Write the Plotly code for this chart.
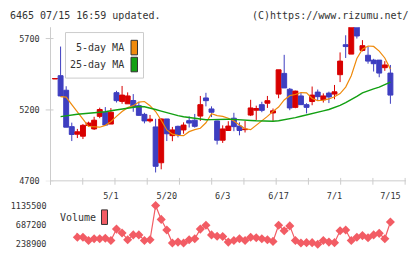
import plotly.graph_objects as go

W, H = 420, 259

# ---------------- data ----------------
tick_idx = [10, 20, 30, 40, 50, 60]
tick_labels = ["5/1", "5/20", "6/3", "6/17", "7/1", "7/15"]

opens = [5417, 5440, 5338, 5083, 5030, 5016, 5091, 5067, 5155, 5184,
         5101, 5321, 5260, 5243, 5266, 5230, 5169, 5123, 5081, 4830,
         5137, 5020, 5085, 5060, 5125, 5128, 5157, 5284, 5207, 5123,
         4988, 5056, 5142, 5087, 5062, 5164, 5198, 5237, 5247, 5179,
         5311, 5456, 5345, 5218, 5298, 5237, 5259, 5325, 5271, 5318,
         5311, 5447, 5657, 5591, 5800, 5617, 5583, 5549, 5549, 5496,
         5458]
highs = [5420, 5644, 5366, 5111, 5067, 5101, 5118, 5152, 5216, 5220,
         5213, 5334, 5368, 5323, 5311, 5257, 5180, 5165, 5138, 5140,
         5137, 5081, 5090, 5113, 5155, 5172, 5298, 5320, 5225, 5125,
         5092, 5121, 5180, 5113, 5123, 5271, 5230, 5257, 5298, 5210,
         5481, 5586, 5354, 5335, 5320, 5247, 5364, 5343, 5316, 5328,
         5375, 5603, 5723, 5800, 5820, 5689, 5644, 5558, 5549, 5542,
         5515]
lows = [5417, 5295, 5079, 4982, 5003, 4996, 5084, 5060, 5142, 5089,
        5101, 5252, 5243, 5243, 5187, 5159, 5106, 5111, 4762, 4784,
        4982, 4981, 5008, 5033, 5077, 5076, 5123, 5225, 5150, 4958,
        4969, 5056, 5051, 5022, 5042, 5157, 5130, 5184, 5214, 5123,
        5282, 5354, 5198, 5212, 5235, 5176, 5233, 5264, 5252, 5248,
        5275, 5395, 5564, 5591, 5700, 5610, 5524, 5469, 5429, 5474,
        5243]
closes = [5420, 5298, 5079, 5028, 5047, 5092, 5108, 5128, 5203, 5094,
          5184, 5265, 5304, 5298, 5221, 5162, 5123, 5135, 4805, 5137,
          5033, 5060, 5028, 5094, 5108, 5085, 5237, 5265, 5184, 4988,
          5067, 5087, 5083, 5056, 5065, 5214, 5210, 5197, 5265, 5194,
          5481, 5354, 5214, 5332, 5237, 5218, 5304, 5293, 5298, 5291,
          5327, 5542, 5644, 5790, 5718, 5650, 5542, 5524, 5458, 5515,
          5304]

ma5 = [None, 5293, 5290, 5237, 5189, 5135, 5084, 5079, 5079, 5092,
       5118, 5155, 5189, 5216, 5230, 5255, 5259, 5230, 5189, 5128,
       5060, 5030, 5022, 5020, 5048, 5062, 5072, 5110, 5174, 5160,
       5155, 5142, 5122, 5095, 5068, 5062, 5092, 5123, 5155, 5190,
       5220, 5270, 5300, 5308, 5322, 5320, 5280, 5265, 5268, 5277,
       5292, 5315, 5360, 5440, 5560, 5625, 5648, 5645, 5612, 5564,
       5486]
ma25 = [None, 5153, 5160, 5166, 5170, 5173, 5176, 5178, 5182, 5187,
        5194, 5200, 5207, 5214, 5220, 5224, 5222, 5214, 5203, 5192,
        5181, 5168, 5160, 5152, 5146, 5140, 5135, 5131, 5132, 5134,
        5135, 5135, 5134, 5133, 5128, 5126, 5124, 5122, 5121, 5121,
        5124, 5130, 5137, 5146, 5156, 5164, 5172, 5182, 5193, 5203,
        5217, 5232, 5252, 5272, 5295, 5320, 5336, 5348, 5360, 5378,
        5395]

vol_start = 3
volume = [720000, 402500, 402500, 328600, 366700, 366700, 380100, 328600,
          590800, 501200, 344200, 456300, 456300, 328600, 344200, 1135500,
          814900, 568400, 268000, 290500, 268000, 344200, 366700, 590800,
          680500, 456300, 425000, 418200, 290500, 328600, 366700, 328600,
          402500, 389100, 366700, 344200, 306100, 680500, 552700, 664800,
          328600, 268000, 277000, 277000, 238900, 328600, 290500, 277000,
          552700, 568400, 328600, 402500, 440600, 389100, 456300, 492200,
          366700, 754400]
vol_ticks = [238900, 687200, 1135500]

price_ticks = [4700, 5200, 5700]

day = list(range(len(opens)))
vday = list(range(vol_start, vol_start + len(volume)))

# ---------------- style ----------------
RED = "#d80000"
BLUE = "#3e3ec0"
ORANGE = "#ef8a0c"
GREEN = "#12a012"
VOLC = "#f25c64"
GRID = "#cccccc"
TXT = "#333333"
FONT = "DejaVu Sans Mono"


def px(x):
    return x / W


def py(y):
    return 1 - y / H


fig = go.Figure()
fig.add_trace(go.Candlestick(
    x=day, open=opens, high=highs, low=lows, close=closes,
    increasing=dict(line=dict(color=RED, width=1), fillcolor=RED),
    decreasing=dict(line=dict(color=BLUE, width=1), fillcolor=BLUE),
    whiskerwidth=0, showlegend=False, hoverinfo="skip",
    xaxis="x", yaxis="y"))
fig.add_trace(go.Scatter(x=day, y=ma5, mode="lines", connectgaps=False,
                         line=dict(color=ORANGE, width=1.2),
                         showlegend=False, hoverinfo="skip", xaxis="x", yaxis="y"))
fig.add_trace(go.Scatter(x=day, y=ma25, mode="lines",
                         line=dict(color=GREEN, width=1.4),
                         showlegend=False, hoverinfo="skip", xaxis="x", yaxis="y"))
# volume line (clipped) and markers
fig.add_trace(go.Scatter(x=vday, y=volume, mode="lines",
                         line=dict(color=VOLC, width=1.2),
                         showlegend=False, hoverinfo="skip", xaxis="x2", yaxis="y2"))
fig.add_trace(go.Scatter(x=vday[1:], y=volume[1:], mode="markers",
                         marker=dict(symbol="diamond", size=7, color=VOLC),
                         cliponaxis=False,
                         showlegend=False, hoverinfo="skip", xaxis="x2", yaxis="y2"))

shapes = []
# axes lines
shapes.append(dict(type="line", xref="paper", yref="paper",
                   x0=px(50.5), x1=px(50.5), y0=py(25), y1=py(187.5),
                   line=dict(color=GRID, width=1)))
shapes.append(dict(type="line", xref="paper", yref="paper",
                   x0=px(50.5), x1=px(406), y0=py(183.5), y1=py(183.5),
                   line=dict(color=GRID, width=1)))
for k in range(12):
    xx = 50.5 + k * 32.24
    shapes.append(dict(type="line", xref="paper", yref="paper",
                       x0=px(xx), x1=px(xx), y0=py(180.5), y1=py(187.5),
                       line=dict(color=GRID, width=1)))
for v in price_ticks:
    shapes.append(dict(type="line", xref="paper", yref="y",
                       x0=px(45.7), x1=px(53.5), y0=v, y1=v,
                       line=dict(color=GRID, width=1)))
# legend box
shapes.append(dict(type="rect", xref="paper", yref="paper", layer="above",
                   x0=px(65.5), x1=px(143.5), y0=py(30.5), y1=py(77.5),
                   line=dict(color=GRID, width=1), fillcolor="white"))
shapes.append(dict(type="rect", xref="paper", yref="paper", layer="above",
                   x0=px(131), x1=px(137.5), y0=py(38.5), y1=py(53.5),
                   line=dict(color=TXT, width=1), fillcolor=ORANGE))
shapes.append(dict(type="rect", xref="paper", yref="paper", layer="above",
                   x0=px(131), x1=px(137.5), y0=py(56), y1=py(71),
                   line=dict(color=TXT, width=1), fillcolor=GREEN))
shapes.append(dict(type="rect", xref="paper", yref="paper", layer="above",
                   x0=px(101.5), x1=px(107.5), y0=py(213.5), y1=py(228.5),
                   line=dict(color=TXT, width=1), fillcolor=VOLC))

annotations = [
    dict(text="6465 07/15 16:59 updated.", x=px(8), y=py(12.5), xref="paper", yref="paper",
         xanchor="left", yanchor="middle", showarrow=False, font=dict(family=FONT, size=10, color=TXT)),
    dict(text="(C)https://www.rizumu.net/", x=px(411), y=py(12.5), xref="paper", yref="paper",
         xanchor="right", yanchor="middle", showarrow=False, font=dict(family=FONT, size=10, color=TXT)),
    dict(text="5-day MA", x=px(125.5), y=py(46), xref="paper", yref="paper",
         xanchor="right", yanchor="middle", showarrow=False, font=dict(family=FONT, size=10, color=TXT)),
    dict(text="25-day MA", x=px(125.5), y=py(63), xref="paper", yref="paper",
         xanchor="right", yanchor="middle", showarrow=False, font=dict(family=FONT, size=10, color=TXT)),
    dict(text="Volume", x=px(58), y=py(221.5), xref="paper", yref="paper",
         xanchor="left", yanchor="middle", showarrow=False, font=dict(family=FONT, size=10, color=TXT)),
]

fig.update_layout(
    width=W, height=H, margin=dict(l=0, r=0, t=0, b=0),
    paper_bgcolor="white", plot_bgcolor="rgba(0,0,0,0)",
    boxgap=0.12, boxgroupgap=0, showlegend=False,
    xaxis=dict(domain=[px(50.7), px(405.3)], range=[-0.769, 62.666],
               tickvals=tick_idx, ticktext=tick_labels, ticks="",
               ticklabelstandoff=8,
               tickfont=dict(family=FONT, size=8.5, color=TXT),
               showgrid=False, zeroline=False, showline=False,
               rangeslider=dict(visible=False), anchor="y", fixedrange=True),
    yaxis=dict(domain=[py(184), py(25)], range=[4700, 5779.4],
               tickvals=price_ticks, ticktext=[str(v) for v in price_ticks],
               ticks="", ticklabelstandoff=10,
               tickfont=dict(family=FONT, size=8.5, color=TXT),
               showgrid=False, zeroline=False, showline=False, anchor="x"),
    xaxis2=dict(domain=[px(76), px(405.3)], range=[3.757, 62.666],
                visible=False, anchor="y2"),
    yaxis2=dict(domain=[py(251), py(207)], range=[194070, 1180330],
                anchor="free", position=px(46.5),
                tickvals=vol_ticks, ticktext=[str(v) for v in vol_ticks],
                ticks="", tickfont=dict(family=FONT, size=8.5, color=TXT),
                showgrid=False, zeroline=False, showline=False),
    shapes=shapes, annotations=annotations,
)

fig.write_html("out.html")
